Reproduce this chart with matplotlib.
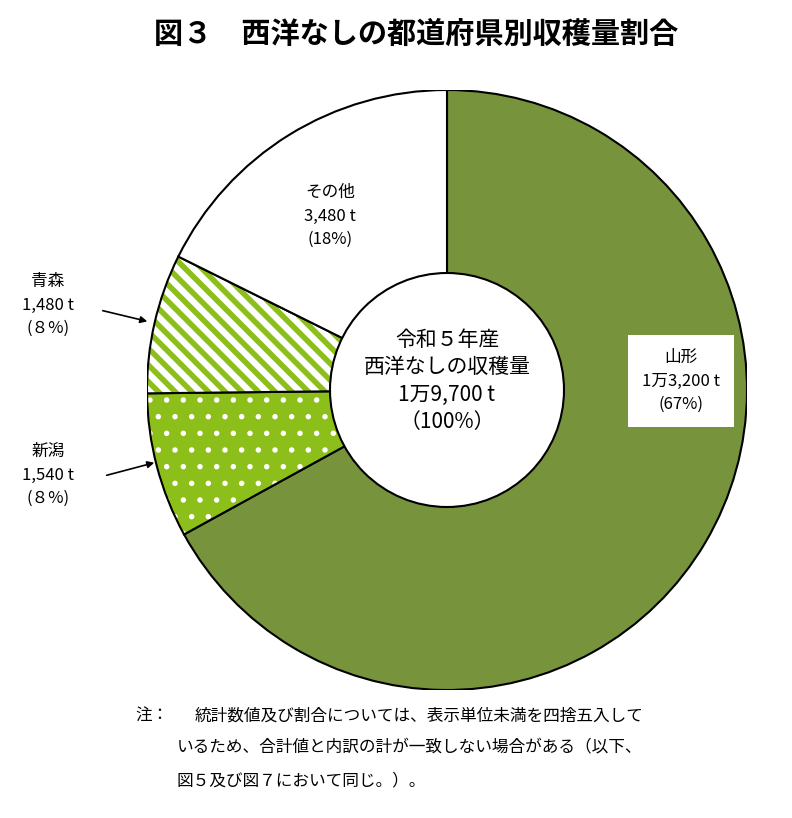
import matplotlib
matplotlib.use("Agg")
import matplotlib.pyplot as plt
from matplotlib.patches import Wedge, Circle

plt.rcParams["font.family"] = "Noto Sans CJK JP"
plt.rcParams["hatch.linewidth"] = 4

labels = ["山形", "新潟", "青森", "その他"]
values = [13200, 1540, 1480, 3480]
value_text = ["1万3,200 t", "1,540 t", "1,480 t", "3,480 t"]
pct_text = ["(67%)", "(８%)", "(８%)", "(18%)"]

GREEN = "#77933C"
LIGHT = "#8DBF1A"

fig = plt.figure(figsize=(7.92, 8.18), dpi=100)
fig.text(0.526, 0.958, "図３　西洋なしの都道府県別収穫量割合", ha="center", va="center",
         fontsize=21, fontweight="bold")

ax = fig.add_axes([147 / 792, (818 - 390 - 300) / 818, 600 / 792, 600 / 818])
ax.set_xlim(-1, 1)
ax.set_ylim(-1, 1)
ax.axis("off")

total = sum(values)
start = 90.0
for i, v in enumerate(values):
    sweep = 360.0 * v / total
    t1, t2 = start - sweep, start
    if i == 0:
        ax.add_patch(Wedge((0, 0), 1, t1, t2, facecolor=GREEN, edgecolor="none"))
    elif i == 1:
        ax.add_patch(Wedge((0, 0), 1, t1, t2, facecolor=LIGHT, edgecolor="none"))
        plt.rcParams["hatch.linewidth"] = 1.5
        ax.add_patch(Wedge((0, 0), 1, t1, t2, facecolor="none", edgecolor="white",
                           hatch=".", linewidth=0))
        plt.rcParams["hatch.linewidth"] = 4
    elif i == 2:
        ax.add_patch(Wedge((0, 0), 1, t1, t2, facecolor="white", edgecolor=LIGHT,
                           hatch="\\\\", linewidth=0))
    else:
        ax.add_patch(Wedge((0, 0), 1, t1, t2, facecolor="white", edgecolor="none"))
    ax.add_patch(Wedge((0, 0), 1, t1, t2, facecolor="none", edgecolor="black", linewidth=1.5))
    start = t1

ax.add_patch(Circle((0, 0), 0.39, facecolor="white", edgecolor="black", linewidth=1.5))
ax.text(0, 0.03, "令和５年産\n西洋なしの収穫量\n1万9,700 t\n（100%）", ha="center",
        va="center", fontsize=15, linespacing=1.3)

ax.text(0.78, 0.03, "山形\n" + value_text[0] + "\n" + pct_text[0], ha="center", va="center",
        fontsize=12, linespacing=1.5,
        bbox=dict(facecolor="white", edgecolor="none", pad=10))
ax.text(-0.39, 0.58, "その他\n" + value_text[3] + "\n" + pct_text[3], ha="center",
        va="center", fontsize=12, linespacing=1.5)

def px(x, y):
    return ((x - 447) / 300, (390 - y) / 300)

ax.annotate("", xy=px(150, 322), xytext=px(100, 310),
            arrowprops=dict(arrowstyle="-|>", color="black", lw=1.2), annotation_clip=False)
ax.annotate("", xy=px(157, 462), xytext=px(104, 476),
            arrowprops=dict(arrowstyle="-|>", color="black", lw=1.2), annotation_clip=False)
x0, y0 = px(48, 305)
ax.text(x0, y0, "青森\n" + value_text[2] + "\n" + pct_text[2], ha="center", va="center",
        fontsize=12, linespacing=1.5, clip_on=False)
x0, y0 = px(48, 475)
ax.text(x0, y0, "新潟\n" + value_text[1] + "\n" + pct_text[1], ha="center", va="center",
        fontsize=12, linespacing=1.5, clip_on=False)

fig.text(135 / 792, (818 - 716) / 818, "注：", fontsize=12, va="center")
fig.text(195 / 792, (818 - 716) / 818, "統計数値及び割合については、表示単位未満を四捨五入して",
         fontsize=12, va="center")
fig.text(177 / 792, (818 - 748) / 818, "いるため、合計値と内訳の計が一致しない場合がある（以下、",
         fontsize=12, va="center")
fig.text(177 / 792, (818 - 781) / 818, "図５及び図７において同じ。）。", fontsize=12, va="center")

fig.savefig("out.png", dpi=100)
